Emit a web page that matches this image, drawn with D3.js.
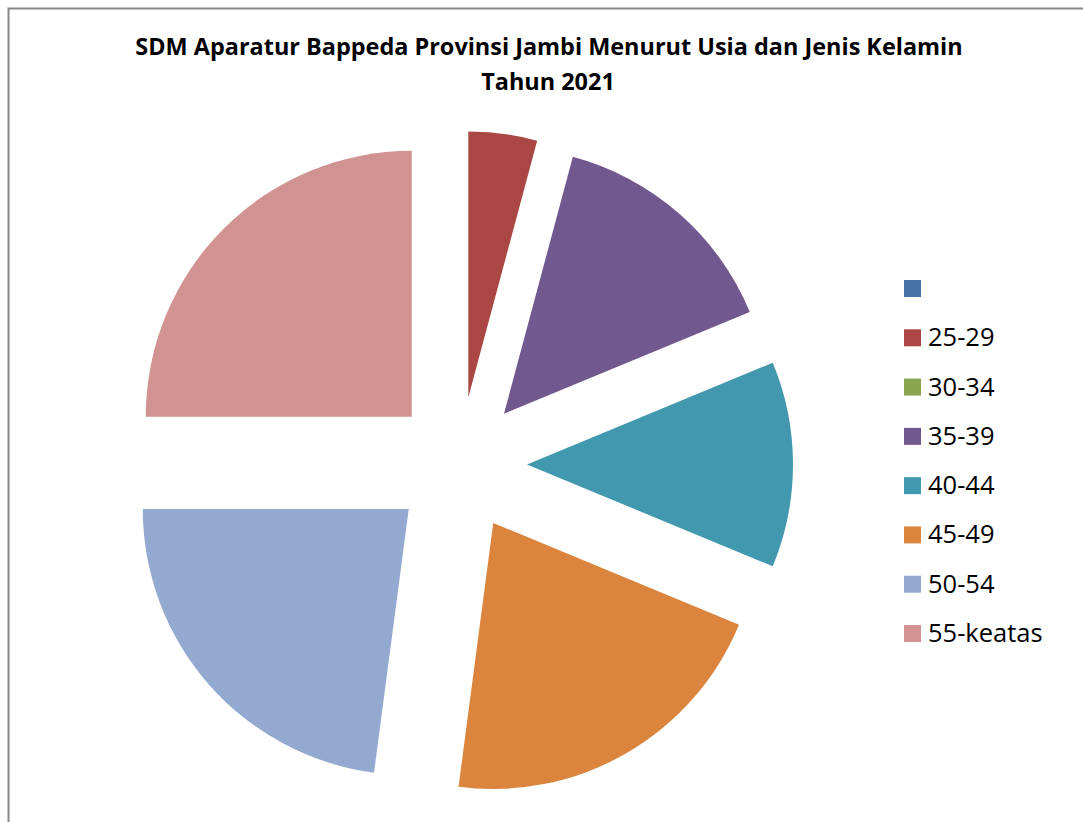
<!DOCTYPE html>
<html>
<head>
<meta charset="utf-8">
<script src="https://cdn.jsdelivr.net/npm/d3@7"></script>
<style>
  html, body { margin: 0; padding: 0; background: #fff; }
  svg { display: block; }
</style>
</head>
<body>
<div id="chart"></div>
<script>
// data (jumlah pegawai per kelompok usia)
const categories = ["", "25-29", "30-34", "35-39", "40-44", "45-49", "50-54", "55-keatas"];
const values = [0, 2, 0, 7, 6, 10, 11, 12];
const colors = ["#4572A7", "#AA4643", "#89A54E", "#71588F", "#4198AF", "#DB843D", "#93A9CF", "#D19392"];
const titleLines = ["SDM Aparatur Bappeda Provinsi Jambi Menurut Usia dan Jenis Kelamin", "Tahun 2021"];

const data = categories.map((c, i) => ({ label: c, value: values[i] }));

const width = 1083;
const height = 822;
const cx = 459.5, cy = 464.5;
const radius = 266;
const explode = 67.5;

const svg = d3.select("#chart")
  .append("svg")
  .attr("width", width)
  .attr("height", height);

// chart area border (runs off the right and bottom edge)
svg.append("rect")
  .attr("x", 8.5)
  .attr("y", 8.5)
  .attr("width", width + 20)
  .attr("height", height + 20)
  .attr("fill", "none")
  .attr("stroke", "#878787")
  .attr("stroke-width", 2);

// title
const title = svg.append("g")
  .attr("font-family", "'Open Sans', 'Noto Sans', sans-serif")
  .attr("font-weight", "bold")
  .attr("fill", "#000");

const t1 = title.append("text")
  .attr("x", 549)
  .attr("y", 54.5)
  .attr("text-anchor", "middle")
  .attr("font-size", "22px")
  .text(titleLines[0]);

// fit first line to the width seen in the picture
const w = t1.node().getComputedTextLength();
const fs = 22 * 828 / w;
t1.attr("font-size", fs + "px");

title.append("text")
  .attr("x", 548)
  .attr("y", 89.5)
  .attr("text-anchor", "middle")
  .attr("font-size", fs + "px")
  .text(titleLines[1]);

// pie
const pie = d3.pie()
  .sort(null)
  .value(d => d.value);

const arc = d3.arc()
  .innerRadius(0)
  .outerRadius(radius);

const g = svg.append("g")
  .attr("transform", `translate(${cx},${cy})`);

g.selectAll("path")
  .data(pie(data).filter(d => d.data.value > 0))
  .enter()
  .append("path")
  .attr("d", arc)
  .attr("fill", d => colors[categories.indexOf(d.data.label)])
  .attr("transform", d => {
    const a = (d.startAngle + d.endAngle) / 2;
    return `translate(${Math.sin(a) * explode},${-Math.cos(a) * explode})`;
  });

// legend
const y = d3.scalePoint()
  .domain(categories)
  .range([288.5, 633.5]);

const legend = svg.append("g")
  .attr("font-family", "'Open Sans', 'Noto Sans', sans-serif")
  .attr("font-size", "25.5px");

const items = legend.selectAll("g")
  .data(categories)
  .enter()
  .append("g")
  .attr("transform", d => `translate(904,${y(d)})`);

items.append("rect")
  .attr("x", 0)
  .attr("y", -8.5)
  .attr("width", 17)
  .attr("height", 17)
  .attr("fill", (d, i) => colors[i]);

items.append("text")
  .attr("x", 24)
  .attr("y", 8.5)
  .attr("fill", "#000")
  .text(d => d);
</script>
</body>
</html>
